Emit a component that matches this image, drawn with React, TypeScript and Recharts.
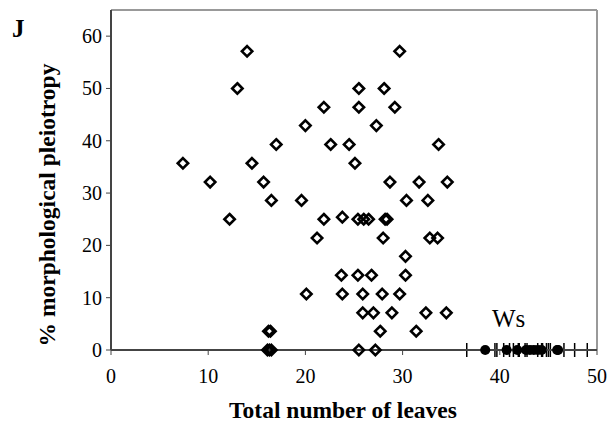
import {
  ErrorBar,
  ReferenceDot,
  ReferenceLine,
  Scatter,
  ScatterChart,
  XAxis,
  YAxis,
} from "recharts";

const SERIF = "'Liberation Serif', 'Times New Roman', serif";

// mutant lines: total leaves vs % morphological pleiotropy
const mutantLeaves = [
  14.0, 29.7,
  13.0, 25.5, 28.1,
  21.9, 25.5, 29.2,
  20.0, 27.3,
  17.0, 22.6, 24.5, 33.7,
  7.4, 14.5, 25.1,
  10.2, 15.7, 28.7, 31.7, 34.6,
  16.5, 19.6, 30.4, 32.6,
  12.2, 21.9, 23.8, 25.4, 26.0, 26.5, 28.2, 28.4,
  21.2, 28.0, 32.8, 33.6,
  30.3,
  23.7, 25.4, 26.8, 30.3,
  20.1, 23.8, 25.9, 27.9, 29.7,
  25.9, 27.0, 28.9, 32.4, 34.5,
  16.2, 16.4, 27.7, 31.4,
  16.1, 16.3, 16.5, 25.5, 27.2,
];
const mutantPleiotropy = [
  57.1, 57.1,
  50.0, 50.0, 50.0,
  46.4, 46.4, 46.4,
  42.9, 42.9,
  39.3, 39.3, 39.3, 39.3,
  35.7, 35.7, 35.7,
  32.1, 32.1, 32.1, 32.1, 32.1,
  28.6, 28.6, 28.6, 28.6,
  25.0, 25.0, 25.4, 25.0, 25.0, 25.0, 25.0, 25.0,
  21.4, 21.4, 21.4, 21.4,
  17.9,
  14.3, 14.3, 14.3, 14.3,
  10.7, 10.7, 10.7, 10.7, 10.7,
  7.1, 7.1, 7.1, 7.1, 7.1,
  3.6, 3.6, 3.6, 3.6,
  0, 0, 0, 0, 0,
];

// wild-type (Ws) plants, no pleiotropy
const wsLeaves = [38.5, 40.7, 41.8, 42.7, 43.1, 43.5, 43.9, 44.3, 46.0, 45.9];
const wsLeafError = [1.9, 1.2, 2.1, 1.7, 1.7, 1.5, 1.3, 2.3, 1.7, 3.1];

const xTicks = [0, 10, 20, 30, 40, 50];
const yTicks = [0, 10, 20, 30, 40, 50, 60];

const mutantData = mutantLeaves.map((x, i) => ({ x, y: mutantPleiotropy[i] }));
const wsData = wsLeaves.map((x, i) => ({ x, y: 0, err: wsLeafError[i] }));

const Diamond = (props: any) => {
  const { cx, cy } = props;
  const r = 5.2;
  return (
    <path
      d={`M${cx},${cy - r}L${cx + r},${cy}L${cx},${cy + r}L${cx - r},${cy}Z`}
      fill="none"
      stroke="#000"
      strokeWidth={2.6}
    />
  );
};

const Dot = (props: any) => <circle cx={props.cx} cy={props.cy} r={5} fill="#000" />;

const XTick = (props: any) => (
  <text x={props.x} y={props.y + 26} textAnchor="middle" fontSize={20} fontFamily={SERIF} fill="#000">
    {props.payload.value}
  </text>
);

const YTick = (props: any) => (
  <text x={props.x - 2} y={props.y + 7} textAnchor="end" fontSize={20} fontFamily={SERIF} fill="#000">
    {props.payload.value}
  </text>
);

const YTitle = (props: any) => {
  const vb = props.viewBox;
  const x = vb.x + 55;
  const y = vb.y + vb.height / 2 + 25;
  return (
    <text
      x={x}
      y={y}
      transform={`rotate(-90 ${x} ${y})`}
      textAnchor="middle"
      fontSize={23.5}
      fontWeight="bold"
      fontFamily={SERIF}
      fill="#000"
    >
      % morphological pleiotropy
    </text>
  );
};

const XTitle = (props: any) => {
  const vb = props.viewBox;
  return (
    <text
      x={vb.x + vb.width / 2 - 11}
      y={vb.y + 68}
      textAnchor="middle"
      fontSize={23.5}
      fontWeight="bold"
      fontFamily={SERIF}
      fill="#000"
    >
      Total number of leaves
    </text>
  );
};

export default function App() {
  return (
    <div
      style={{
        position: "absolute",
        left: 0,
        top: 0,
        width: 612,
        height: 423,
        background: "#fff",
        fontFamily: SERIF,
      }}
    >
      <div
        style={{
          position: "absolute",
          left: 12,
          top: 16,
          fontFamily: SERIF,
          fontWeight: "bold",
          fontSize: 25,
          lineHeight: 1,
          zIndex: 2,
        }}
      >
        J
      </div>
      <ScatterChart width={612} height={423} margin={{ top: 10, right: 15, bottom: 0, left: 0 }}>
        <XAxis
          type="number"
          dataKey="x"
          domain={[0, 50]}
          ticks={xTicks}
          height={73}
          axisLine={{ stroke: "#444", strokeWidth: 2 }}
          tickLine={{ stroke: "#444" }}
          tickSize={5}
          tick={<XTick />}
          label={<XTitle />}
        />
        <YAxis
          type="number"
          dataKey="y"
          domain={[0, 65]}
          ticks={yTicks}
          width={111}
          axisLine={{ stroke: "#444", strokeWidth: 2 }}
          tickLine={{ stroke: "#444" }}
          tickSize={5}
          tick={<YTick />}
          label={<YTitle />}
        />
        <ReferenceLine y={65} stroke="#999" strokeWidth={2} />
        <ReferenceLine x={50} stroke="#999" strokeWidth={2} />
        <Scatter data={mutantData} shape={Diamond} isAnimationActive={false} />
        <Scatter data={wsData} shape={Dot} isAnimationActive={false}>
          <ErrorBar dataKey="err" direction="x" width={7} stroke="#000" strokeWidth={1.5} />
        </Scatter>
        <ReferenceDot
          x={40.9}
          y={6}
          r={1}
          fill="none"
          stroke="none"
          label={{ value: "Ws", position: "center", fontSize: 25, fill: "#000", fontFamily: SERIF }}
        />
      </ScatterChart>
    </div>
  );
}
